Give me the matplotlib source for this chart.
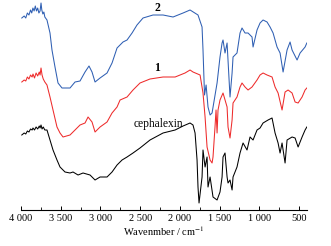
import matplotlib
matplotlib.use("Agg")
import matplotlib.pyplot as plt
from matplotlib.ticker import MultipleLocator, FuncFormatter

# ---- data (wavenumber in cm^-1, transmittance in arbitrary offset units) ----
blue_wn = [3990, 3960, 3940, 3920, 3900, 3880, 3865, 3850, 3835, 3820, 3805, 3790, 3775, 3760, 3748,
           3738, 3725, 3712, 3700, 3673, 3635, 3610, 3572, 3534, 3484, 3420, 3383, 3320, 3257, 3194,
           3144, 3106, 3068, 3005, 2917, 2854, 2791, 2716, 2665, 2602, 2540, 2464, 2338, 2212, 2086,
           1960, 1872, 1772, 1721, 1709, 1690, 1670, 1646, 1620, 1595, 1532, 1495, 1469, 1457, 1432,
           1406, 1369, 1343, 1331, 1281, 1243, 1218, 1180, 1142, 1092, 1079, 1029, 991, 953, 903,
           865, 827, 777, 739, 701, 651, 613, 588, 525, 487, 424, 402]
blue_t = [192, 194, 192, 197, 195, 200, 197, 202, 199, 204, 199, 202, 197, 199, 207,
          200, 196, 198, 193, 190, 177, 160, 143, 127, 122, 122, 122, 128, 129, 138,
          144, 138, 128, 132, 137, 147, 162, 168, 170, 177, 185, 192, 195, 195, 193,
          197, 200, 195, 183, 160, 115, 125, 103, 95, 97, 127, 153, 167, 170, 157,
          167, 113, 137, 153, 157, 177, 182, 177, 177, 173, 163, 180, 187, 190, 188,
          183, 177, 163, 157, 138, 160, 168, 160, 150, 157, 163, 167]

red_wn = [3990, 3960, 3940, 3920, 3900, 3880, 3860, 3849, 3830, 3810, 3790, 3770, 3760, 3748, 3735,
          3720, 3700, 3673, 3635, 3597, 3547, 3509, 3471, 3383, 3320, 3257, 3194, 3156, 3106, 3068,
          3005, 2917, 2854, 2791, 2753, 2665, 2590, 2502, 2376, 2212, 2060, 1935, 1872, 1835, 1746,
          1709, 1683, 1658, 1620, 1595, 1583, 1558, 1545, 1532, 1520, 1495, 1457, 1406, 1394, 1369,
          1343, 1331, 1281, 1243, 1218, 1180, 1142, 1092, 1029, 991, 953, 903, 840, 802, 764,
          714, 676, 638, 588, 550, 512, 462, 424, 402]
red_t = [128, 130, 129, 133, 131, 135, 133, 136, 132, 137, 134, 138, 135, 142, 135,
         131, 128, 125, 113, 100, 83, 77, 73, 75, 80, 85, 87, 93, 88, 78,
         83, 88, 97, 103, 110, 113, 120, 127, 131, 133, 133, 137, 140, 138, 135,
         117, 93, 63, 50, 47, 53, 83, 100, 77, 100, 110, 117, 103, 83, 72,
         90, 107, 113, 123, 127, 123, 120, 123, 130, 135, 137, 135, 133, 123, 117,
         100, 118, 120, 117, 108, 107, 113, 120, 122]

black_wn = [3990, 3960, 3940, 3920, 3900, 3880, 3860, 3849, 3830, 3810, 3790, 3770, 3760, 3748, 3735,
            3720, 3700, 3673, 3635, 3597, 3547, 3509, 3446, 3383, 3345, 3282, 3219, 3131, 3068, 3005,
            2917, 2854, 2791, 2728, 2665, 2590, 2502, 2376, 2212, 2060, 1960, 1872, 1835, 1809, 1784,
            1772, 1759, 1721, 1709, 1683, 1658, 1646, 1620, 1583, 1532, 1495, 1469, 1457, 1432, 1406,
            1394, 1369, 1343, 1331, 1281, 1243, 1205, 1155, 1117, 1079, 1029, 991, 953, 890, 840,
            802, 764, 739, 714, 676, 651, 588, 550, 512, 462, 424, 402]
black_t = [75, 77, 76, 79, 78, 81, 80, 82, 80, 83, 81, 84, 82, 85, 81,
           83, 80, 80, 70, 60, 50, 43, 38, 37, 38, 35, 37, 35, 30, 33,
           33, 38, 45, 50, 53, 57, 62, 70, 77, 80, 84, 87, 85, 77, 50,
           23, 7, 33, 60, 43, 53, 23, 33, 13, 10, 18, 33, 53, 57, 33,
           27, 30, 20, 33, 43, 57, 67, 60, 73, 70, 80, 82, 87, 90, 92,
           77, 67, 57, 67, 47, 70, 73, 72, 63, 73, 80, 83]

labels = ["2", "1", "cephalexin"]
label_wn = [2288, 2288, 2275]
label_t = [202, 142, 86]

tick_values = [4000, 3500, 3000, 2500, 2000, 1500, 1000, 500]
xlabel = "Wavenmber / cm$^{-1}$"

# ---- plotting ----
plt.rcParams["font.family"] = ["Liberation Serif", "DejaVu Serif"]
plt.rcParams["mathtext.fontset"] = "stix"

fig = plt.figure(figsize=(3.31, 2.46), dpi=100)
ax = fig.add_axes([21 / 331, 36 / 246, 286 / 331, 210 / 246])

ax.plot(blue_wn, blue_t, color="#2f5fb3", lw=0.75)
ax.plot(red_wn, red_t, color="#ee2b2b", lw=0.75)
ax.plot(black_wn, black_t, color="black", lw=0.75)

ax.text(label_wn[0], label_t[0], labels[0], ha="center", va="center", fontsize=8.5, fontweight="bold")
ax.text(label_wn[1], label_t[1], labels[1], ha="center", va="center", fontsize=8.5, fontweight="bold")
ax.text(label_wn[2], label_t[2], labels[2], ha="center", va="center", fontsize=8.3)

ax.set_xlim(4000, 400)
ax.set_ylim(0, 210)
for s in ["left", "right", "top"]:
    ax.spines[s].set_visible(False)
ax.spines["bottom"].set_linewidth(0.8)
ax.set_yticks([])
ax.set_xticks(tick_values)
ax.xaxis.set_minor_locator(MultipleLocator(250))
ax.xaxis.set_major_formatter(FuncFormatter(lambda v, p: f"{int(v):,}".replace(",", " ")))
ax.tick_params(axis="x", which="major", direction="in", length=3, width=0.7, labelsize=7.5, pad=3)
ax.tick_params(axis="x", which="minor", direction="in", length=2, width=0.6)
ax.set_xlabel(xlabel, fontsize=7.5, labelpad=1)

fig.savefig("out.png", dpi=100)
